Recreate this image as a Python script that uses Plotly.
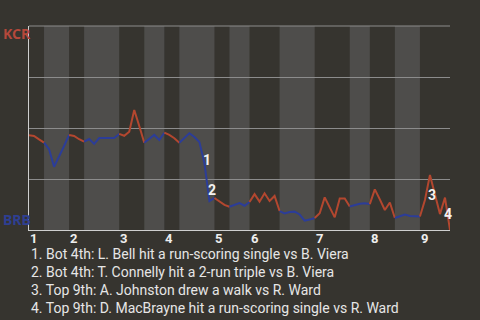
import plotly.graph_objects as go
import numpy as np

# plate appearances per half-inning (top 1, bot 1, ..., top 9)
half_counts = [3, 5, 3, 7, 5, 4, 3, 7, 3, 4, 6, 7, 7, 4, 5, 5, 6]
inning_labels = ["1", "2", "3", "4", "5", "6", "7", "8", "9"]

# KCR win probability (%) after each plate appearance
wp = [46.4, 46.1, 44.4, 42.8,
      39.6, 31.0, 35.9, 41.2, 46.6,
      46.1, 44.5, 43.3,
      44.6, 42.2, 45.1, 45.1, 45.1, 45.1, 47.1,
      46.2, 48.2, 58.8, 51.0, 42.8,
      44.5, 46.6, 44.1, 47.7,
      46.6, 45.0, 42.8,
      45.0, 47.4, 45.6, 43.1, 32.8, 14.2, 15.7,
      13.9, 12.3, 11.4,
      12.3, 13.2, 11.9, 13.7,
      17.6, 13.9, 18.0, 14.2, 16.7, 9.3,
      8.1, 8.8, 9.0, 7.6, 4.6, 5.1, 5.9,
      8.2, 16.0, 11.3, 6.2, 15.4, 15.4, 11.5,
      12.3, 12.9, 13.1, 12.7,
      19.9, 15.0, 9.8, 13.5, 5.9,
      6.6, 7.6, 6.9, 6.6, 6.6,
      14.7, 27.0, 17.4, 7.8, 15.9, 0.0]

event_idx = [35, 36, 80, 83]
event_labels = ["1", "2", "3", "4"]
event_shift = [(3, 3), (3, 11), (2, -20), (3, -16)]
event_texts = [
    "1. Bot 4th: L. Bell hit a run-scoring single vs B. Viera",
    "2. Bot 4th: T. Connelly hit a 2-run triple vs B. Viera",
    "3. Top 9th: A. Johnston drew a walk vs R. Ward",
    "4. Top 9th: D. MacBrayne hit a run-scoring single vs R. Ward",
]
away, home = "KCR", "BRB"

RED = "#b3472f"
BLUE = "#2c3d98"
BG = "#36342f"
BAND = "#4e4d4b"
GRID = "#8c8c8c"
FONT = "Roboto"

bounds = np.concatenate([[0], np.cumsum(half_counts)])
total = int(bounds[-1])

fig = go.Figure()
shapes = []
for i in range(len(half_counts)):
    a, b = int(bounds[i]), int(bounds[i + 1])
    if i % 2 == 1:
        shapes.append(dict(type="rect", xref="x", yref="paper", x0=a, x1=b, y0=0, y1=1,
                           fillcolor=BAND, line=dict(width=0), layer="below"))
    xs = list(range(a, b + 1))
    fig.add_trace(go.Scatter(x=xs, y=wp[a:b + 1], mode="lines",
                             line=dict(color=RED if i % 2 == 0 else BLUE, width=2),
                             hoverinfo="skip", showlegend=False))
# top border line (same as gridlines)
shapes.append(dict(type="line", xref="paper", yref="paper", x0=0, x1=1, y0=1, y1=1,
                   line=dict(color=GRID, width=1), layer="below"))

ann = []
for j, lab in enumerate(inning_labels):
    ann.append(dict(x=int(bounds[2 * j]), y=0, xref="x", yref="paper", text="<b>%s</b>" % lab,
                    showarrow=False, xanchor="left", yanchor="middle", yshift=-8, xshift=-1,
                    font=dict(family=FONT, size=13, color="#eeeeee")))
for k, lab, (dx, dy) in zip(event_idx, event_labels, event_shift):
    ann.append(dict(x=k, y=wp[k], xref="x", yref="y", text="<b>%s</b>" % lab, showarrow=False,
                    xanchor="center", yanchor="middle", xshift=dx, yshift=dy,
                    font=dict(family=FONT, size=14, color="#f2f2f2")))
for n, t in enumerate(event_texts):
    ann.append(dict(x=0, y=0, xref="paper", yref="paper", text=t, showarrow=False,
                    xanchor="left", yanchor="middle", xshift=0, yshift=-24 - 18 * n,
                    font=dict(family=FONT, size=14, color="#e6e6e6")))
ann.append(dict(x=0, y=1, xref="paper", yref="paper", text="<b>%s</b>" % away, showarrow=False,
                xanchor="left", yanchor="middle", xshift=-28, yshift=-7,
                font=dict(family="Noto Sans", size=14, color="#b5483b")))
ann.append(dict(x=0, y=0, xref="paper", yref="paper", text="<b>%s</b>" % home, showarrow=False,
                xanchor="left", yanchor="middle", xshift=-28, yshift=11,
                font=dict(family="Noto Sans", size=14, color="#2e3f92")))

fig.update_layout(
    width=480, height=320,
    margin=dict(l=29, r=30, t=26, b=90),
    paper_bgcolor=BG, plot_bgcolor=BG,
    shapes=shapes, annotations=ann,
    xaxis=dict(range=[0, total], showgrid=False, zeroline=False, showticklabels=False,
               showline=True, linecolor="#cfcfcf", linewidth=1, fixedrange=True),
    yaxis=dict(range=[0, 100], tickvals=[0, 25, 50, 75, 100], showticklabels=False,
               gridcolor=GRID, gridwidth=1, zeroline=False,
               showline=True, linecolor="#cfcfcf", linewidth=1, fixedrange=True),
)
fig.write_html("out.html", config={"displayModeBar": False})
